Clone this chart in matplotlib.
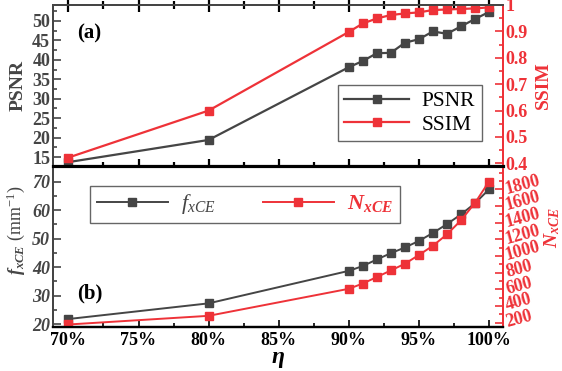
import matplotlib
matplotlib.use("Agg")
import matplotlib.pyplot as plt
from matplotlib.ticker import MultipleLocator, FuncFormatter

plt.rcParams['font.family'] = ['Liberation Serif', 'DejaVu Serif']
plt.rcParams['mathtext.fontset'] = 'custom'
plt.rcParams['mathtext.rm'] = 'Liberation Serif'
plt.rcParams['mathtext.it'] = 'Liberation Serif:italic'
plt.rcParams['mathtext.bf'] = 'Liberation Serif:bold'
HAS_BFIT = True
try:
    plt.rcParams['mathtext.bfit'] = 'Liberation Serif:italic:bold'
except Exception:
    HAS_BFIT = False
BI = r'\mathbfit' if HAS_BFIT else r'\mathit'

eta = [70, 80, 90, 91, 92, 93, 94, 95, 96, 97, 98, 99, 100]
psnr = [13.7, 19.4, 38.1, 39.7, 41.7, 41.8, 44.4, 45.3, 47.3, 46.7, 48.6, 50.5, 52.3]
ssim = [0.422, 0.600, 0.898, 0.930, 0.949, 0.962, 0.968, 0.972, 0.981, 0.983, 0.985, 0.987, 0.991]
fxce = [21.8, 27.3, 38.7, 40.4, 42.7, 44.9, 46.9, 49.2, 52.0, 55.1, 58.5, 62.4, 67.3]
nxce = [180, 284, 608, 671, 749, 828, 908, 1013, 1124, 1260, 1428, 1637, 1893]
xticks = [70, 75, 80, 85, 90, 95, 100]
xticklabels = ['70%', '75%', '80%', '85%', '90%', '95%', '100%']

GRAY = '#454545'
RED = '#EE3238'

fig = plt.figure(figsize=(5.62, 3.71), dpi=100)
L, W = 53/562, 450/562
ax1 = fig.add_axes([L, 205/371, W, 161/371])
ax2 = fig.add_axes([L, 44/371, W, 161/371])
ax1r = ax1.twinx()
ax2r = ax2.twinx()

XL = (68.9, 101.0)

# ---- top panel
l1, = ax1.plot(eta, psnr, color=GRAY, marker='s', ms=6, lw=1.6, label='PSNR')
l2, = ax1r.plot(eta, ssim, color=RED, marker='s', ms=6, lw=1.6, label='SSIM')
ax1.set_xlim(*XL)
ax1.set_ylim(12.7, 54.1)
ax1r.set_ylim(0.39, 1.0)
ax1.set_xticks(xticks)
ax1.xaxis.set_minor_locator(MultipleLocator(2.5))
ax1.set_xticklabels([])
ax1.set_yticks([15, 20, 25, 30, 35, 40, 45, 50])
ax1.yaxis.set_minor_locator(MultipleLocator(2.5))
ax1r.set_yticks([0.4, 0.5, 0.6, 0.7, 0.8, 0.9, 1.0])
ax1r.yaxis.set_minor_locator(MultipleLocator(0.05))
ax1r.yaxis.set_major_formatter(FuncFormatter(lambda v, p: '1' if abs(v-1) < 1e-6 else f'{v:.1f}'))

ax1.tick_params(axis='x', which='both', bottom=True, top=True, direction='inout', colors='black', width=1.6)
ax1.tick_params(axis='x', which='major', length=10)
ax1.tick_params(axis='x', which='minor', length=6)
ax1.tick_params(axis='y', which='both', direction='in', colors=GRAY, labelsize=13, width=1.2, pad=2)
ax1.tick_params(axis='y', which='major', length=6)
ax1.tick_params(axis='y', which='minor', length=3)
ax1r.tick_params(axis='y', which='both', direction='in', colors=RED, labelsize=13, width=1.2, pad=2)
ax1r.tick_params(axis='y', which='major', length=6)
ax1r.tick_params(axis='y', which='minor', length=3)
for lab in ax1.get_yticklabels() + ax1r.get_yticklabels():
    lab.set_fontweight('bold')

ax1.set_ylabel('PSNR', fontsize=14, fontweight='bold', color=GRAY)
ax1.yaxis.set_label_coords(-0.058, 0.5)
ax1r.set_ylabel('SSIM', fontsize=14, fontweight='bold', color=RED)
ax1r.yaxis.set_label_coords(1.072, 0.5)

for ax in (ax1, ax1r):
    ax.spines['bottom'].set_color('black')
    ax.spines['bottom'].set_linewidth(2.2)
    ax.spines['top'].set_color(GRAY)
    ax.spines['top'].set_linewidth(1.4)
    ax.spines['left'].set_color(GRAY)
    ax.spines['left'].set_linewidth(1.4)
    ax.spines['right'].set_color(RED)
    ax.spines['right'].set_linewidth(1.4)

ax1.text(0.053, 0.826, '(a)', transform=ax1.transAxes, fontsize=15, fontweight='bold',
         va='center', ha='left')
leg1 = ax1.legend([l1, l2], ['PSNR', 'SSIM'], loc='lower left', bbox_to_anchor=(0.633, 0.155),
                  borderaxespad=0, fancybox=False, edgecolor='#666666', framealpha=1,
                  fontsize=15.5, handlelength=3.0, labelspacing=0.15, borderpad=0.3,
                  handletextpad=0.6)
leg1.get_frame().set_linewidth(1.0)

# ---- bottom panel
l3, = ax2.plot(eta, fxce, color=GRAY, marker='s', ms=6, lw=1.4)
l4, = ax2r.plot(eta, nxce, color=RED, marker='s', ms=6, lw=1.4)
ax2.set_xlim(*XL)
ax2.set_ylim(19.0, 75.5)
ax2r.set_ylim(150, 2080)
ax2.set_xticks(xticks)
ax2.set_xticklabels(xticklabels)
ax2.xaxis.set_minor_locator(MultipleLocator(2.5))
ax2.set_yticks([20, 30, 40, 50, 60, 70])
ax2.yaxis.set_minor_locator(MultipleLocator(5))
ax2r.set_yticks(list(range(200, 1801, 200)))
ax2r.yaxis.set_minor_locator(MultipleLocator(100))

ax2.tick_params(axis='x', which='both', direction='in', top=False, colors='black', width=1.2,
                labelsize=13)
ax2.tick_params(axis='x', which='major', length=5)
ax2.tick_params(axis='x', which='minor', length=3)
ax2.tick_params(axis='y', which='both', direction='in', colors=GRAY, labelsize=13, width=1.2, pad=2)
ax2.tick_params(axis='y', which='major', length=6)
ax2.tick_params(axis='y', which='minor', length=3)
ax2r.tick_params(axis='y', which='both', direction='in', colors=RED, labelsize=13, width=1.2,
                 pad=2)
ax2r.tick_params(axis='y', which='major', length=6)
ax2r.tick_params(axis='y', which='minor', length=3)
for lab in ax2.get_xticklabels():
    lab.set_fontweight('bold')
for lab in ax2.get_yticklabels():
    lab.set_fontweight('bold')
    lab.set_fontstyle('italic')
for lab in ax2r.get_yticklabels():
    lab.set_fontweight('bold')
    lab.set_rotation(15)
    lab.set_rotation_mode('anchor')
    lab.set_va('center')

for ax in (ax2, ax2r):
    ax.spines['top'].set_color('black')
    ax.spines['top'].set_linewidth(2.2)
    ax.spines['bottom'].set_color('black')
    ax.spines['bottom'].set_linewidth(1.6)
    ax.spines['left'].set_color(GRAY)
    ax.spines['left'].set_linewidth(1.4)
    ax.spines['right'].set_color(RED)
    ax.spines['right'].set_linewidth(1.4)

ax2.set_ylabel('$' + BI + r'{f_{xCE}}$ (mm$^{-1}$)', fontsize=13, color=GRAY)
ax2.yaxis.set_label_coords(-0.058, 0.6)
ax2r.set_ylabel('$' + BI + r'{N_{xCE}}$', fontsize=14, color=RED)
ax2r.yaxis.set_label_coords(1.088, 0.62)
ax2.set_xlabel('$' + BI + r'{\eta}$', fontsize=17, labelpad=0)

ax2.text(0.053, 0.21, '(b)', transform=ax2.transAxes, fontsize=15, fontweight='bold',
         va='center', ha='left')
leg2 = ax2.legend([l3, l4], [r'$f_{xCE}$', '$' + BI + r'{N_{xCE}}$'], loc='lower left', ncol=2,
                  bbox_to_anchor=(0.082, 0.646, 0.689, 0.248), mode='expand',
                  borderaxespad=0, fancybox=False, edgecolor='#666666', framealpha=1,
                  fontsize=16, handlelength=3.2, borderpad=0.3, handletextpad=0.6,
                  columnspacing=1.5)
leg2.get_frame().set_linewidth(1.0)
leg2.get_texts()[0].set_color(GRAY)
leg2.get_texts()[1].set_color(RED)

fig.savefig('out.png', dpi=100)
